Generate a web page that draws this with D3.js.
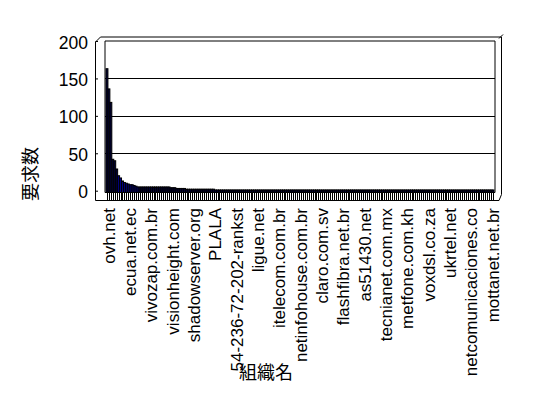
<!DOCTYPE html>
<html>
<head>
<meta charset="utf-8">
<script src="https://cdn.jsdelivr.net/npm/d3@7"></script>
<style>
  html, body { margin: 0; padding: 0; background: #fff; }
  svg { display: block; }
  text { font-family: "Liberation Sans", Arial, sans-serif; fill: #000; }
</style>
</head>
<body>
<script>
// ---- data ----
const tickLabels = ["ovh.net", "ecua.net.ec", "vivozap.com.br", "visionheight.com", "shadowserver.org",
  "PLALA", "54-236-72-202-rankst", "ligue.net", "itelecom.com.br", "netinfohouse.com.br",
  "claro.com.sv", "flashfibra.net.br", "as51430.net", "tecnianet.com.mx", "metfone.com.kh",
  "voxdsl.co.za", "ukrtel.net", "netcomunicaciones.co", "mottanet.net.br"];
const labelEvery = 11;
const counts = [
  163, 136, 118, 42, 40, 29, 20, 17, 13, 11, 10, 9, 8, 8, 7, 6,
  5, 5, 5, 5, 5, 5, 5, 5, 5, 5, 5, 5, 5, 5, 5, 5, 5,
  4, 4, 4,
  3, 3, 3, 3, 3,
  2, 2, 2, 2, 2, 2, 2, 2, 2, 2, 2, 2, 2, 2, 2,
  1, 1, 1, 1, 1, 1, 1, 1, 1, 1, 1, 1, 1, 1, 1, 1, 1, 1, 1, 1, 1, 1, 1, 1,
  1, 1, 1, 1, 1, 1, 1, 1, 1, 1, 1, 1, 1, 1, 1, 1, 1, 1, 1, 1, 1, 1, 1, 1,
  1, 1, 1, 1, 1, 1, 1, 1, 1, 1, 1, 1, 1, 1, 1, 1, 1, 1, 1, 1, 1, 1, 1, 1,
  1, 1, 1, 1, 1, 1, 1, 1, 1, 1, 1, 1, 1, 1, 1, 1, 1, 1, 1, 1, 1, 1, 1, 1,
  1, 1, 1, 1, 1, 1, 1, 1, 1, 1, 1, 1, 1, 1, 1, 1, 1, 1, 1, 1, 1, 1, 1, 1,
  1, 1, 1, 1, 1, 1, 1, 1, 1, 1, 1, 1, 1, 1, 1, 1, 1, 1, 1, 1, 1, 1, 1, 1
];
const yTicks = [0, 50, 100, 150, 200];
const yTitle = "要求数";
const xTitle = "組織名";

// ---- layout ----
const W = 548, H = 398;
const wallL = 105, wallR = 495, wallT = 41, floorY = 192.5;
const outerL = 95.5, outerR = 501.5, outerT = 37, outerB = 200.5;

const svg = d3.select("body").append("svg").attr("width", W).attr("height", H);

const x = d3.scaleBand().domain(counts.map((d, i) => i)).range([wallL + 1, wallR - 1]).padding(0);
const y = d3.scaleLinear().domain([0, 200]).range([190.7, wallT]);

// outer frame (3D box silhouette)
svg.append("path")
  .attr("d", `M${outerL},${outerT + 5} L${outerL + 5},${outerT} L${outerR},${outerT} L${outerR},${outerB - 6} L${outerR - 2.5},${outerB} L${outerL},${outerB} Z`)
  .attr("fill", "#fff").attr("stroke", "#000").attr("stroke-width", 1);
svg.append("line").attr("x1", outerR - 2.5).attr("y1", outerT + 1.5).attr("x2", outerR + 1.5).attr("y2", outerT - 2.5)
  .attr("stroke", "#000");

// back wall
svg.append("path")
  .attr("d", `M${wallL},${floorY} L${wallL},${wallT} L${wallR},${wallT} L${wallR},${floorY}`)
  .attr("fill", "none").attr("stroke", "#000").attr("stroke-width", 1);

// gridlines
svg.append("g").selectAll("line").data(yTicks.filter(v => v > 0 && v < 200)).join("line")
  .attr("x1", wallL).attr("x2", wallR)
  .attr("y1", d => Math.round(y(d)) + 0.5).attr("y2", d => Math.round(y(d)) + 0.5)
  .attr("stroke", "#000").attr("stroke-width", 1);

// y axis (labels + small inward ticks on the outer frame)
const yAxis = d3.axisLeft(y).tickValues(yTicks).tickSize(-2.5).tickPadding(7.5);
const yg = svg.append("g").attr("transform", `translate(${outerL},0)`).call(yAxis);
yg.select(".domain").remove();
yg.selectAll("line").attr("stroke", "#000");
yg.selectAll("text").attr("font-size", 17.5).attr("font-family", "Liberation Sans, Arial, sans-serif")
  .attr("fill", "#000").attr("dy", "0.4em");

// bars
svg.append("g").selectAll("rect").data(counts).join("rect")
  .attr("x", (d, i) => x(i))
  .attr("width", x.bandwidth())
  .attr("y", d => y(d))
  .attr("height", d => floorY - y(d))
  .attr("fill", (d, i) => (i >= 6 && i <= 16) ? "#000090" : "#00003a")
  .attr("stroke", "#000")
  .attr("stroke-width", 1);

// floor line and category tick stripes
svg.append("line").attr("x1", wallL).attr("x2", wallR).attr("y1", floorY).attr("y2", floorY).attr("stroke", "#000");
svg.append("g").selectAll("line").data(counts).join("line")
  .attr("x1", (d, i) => Math.round(x(i) + x.bandwidth() / 2) + 0.5)
  .attr("x2", (d, i) => Math.round(x(i) + x.bandwidth() / 2) + 0.5)
  .attr("y1", floorY).attr("y2", outerB)
  .attr("stroke", "#000").attr("stroke-width", 1);

// x labels (every 11th category)
svg.append("g").selectAll("text").data(tickLabels).join("text")
  .attr("transform", (d, k) => `translate(${x(k * labelEvery) + x.bandwidth() / 2 + 1.5},208) rotate(-90)`)
  .attr("text-anchor", "end")
  .attr("dy", "0.36em")
  .attr("font-size", 17)
  .text(d => d);

// axis titles
svg.append("text")
  .attr("transform", "translate(31,174) rotate(-90)")
  .attr("text-anchor", "middle").attr("dy", "0.35em")
  .attr("font-size", 18)
  .style("font-family", "'Noto Sans CJK JP', sans-serif")
  .text(yTitle);
svg.append("text")
  .attr("x", 266).attr("y", 373)
  .attr("text-anchor", "middle").attr("dy", "0.35em")
  .attr("font-size", 18)
  .style("font-family", "'Noto Sans CJK JP', sans-serif")
  .text(xTitle);
</script>
</body>
</html>
